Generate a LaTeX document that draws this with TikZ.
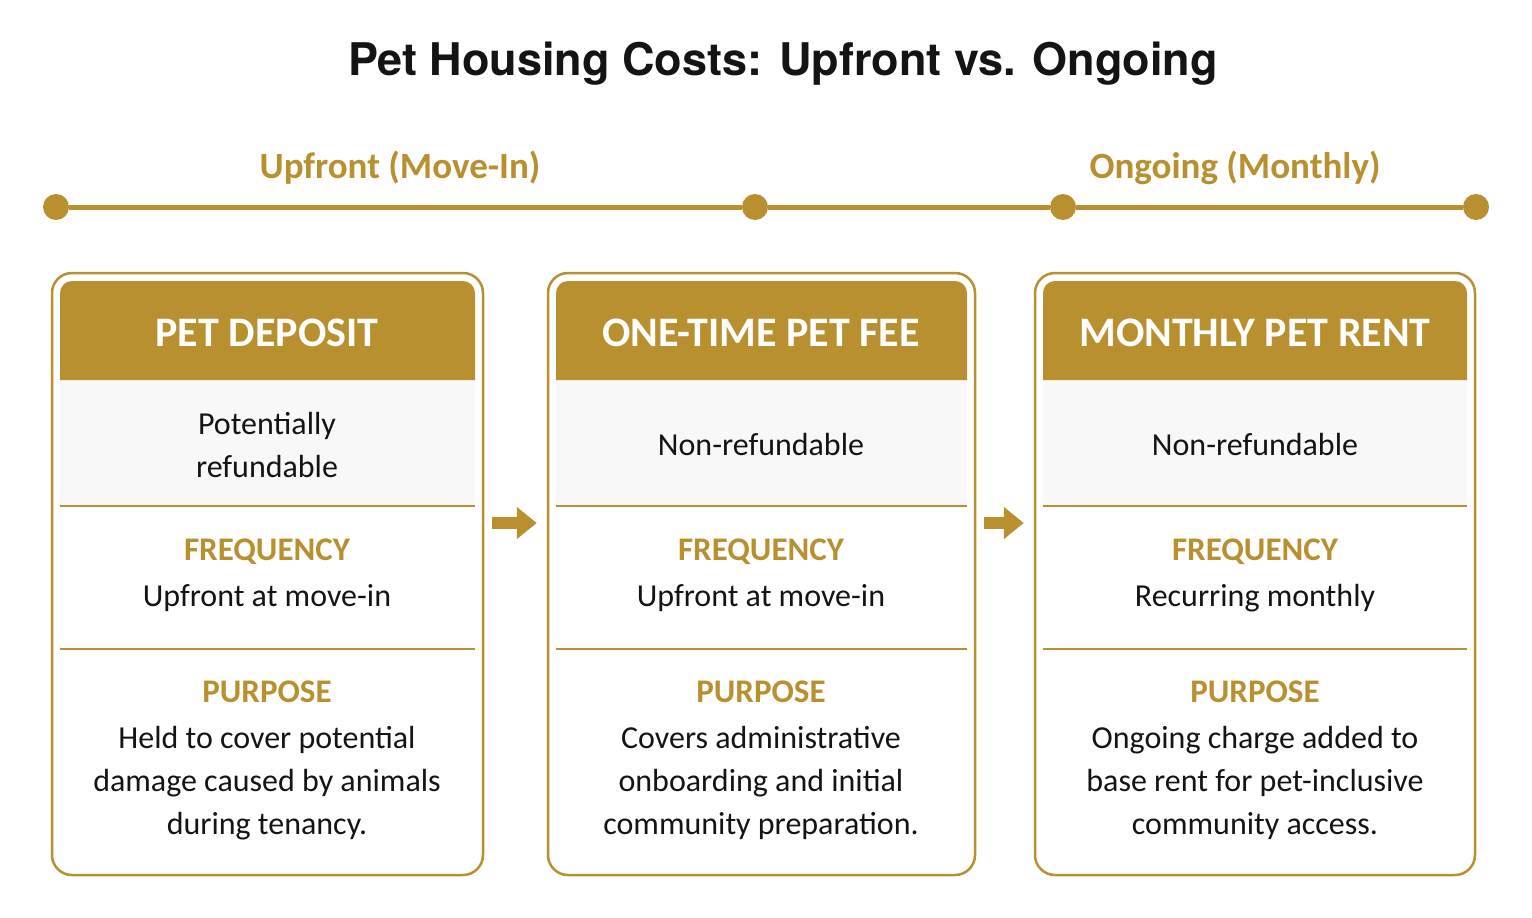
\documentclass[tikz,border=0pt]{standalone}
\usepackage{fontspec}
\setmainfont{Carlito}
\newfontfamily\titlefont{TeX Gyre Heros}
\usetikzlibrary{arrows.meta}
\definecolor{gold}{HTML}{B8902F}
\definecolor{rowgray}{HTML}{F8F8F8}
\definecolor{ink}{HTML}{141414}
\tikzset{
  card/.style={draw=gold, line width=2.5pt, rounded corners=20pt, minimum height=602pt, inner sep=0pt},
  headtext/.style={text=white, font=\bfseries\fontsize{42}{46}\selectfont},
  tag/.style={text=gold, font=\bfseries\fontsize{33}{40}\selectfont},
  body/.style={text=ink, align=center, font=\fontsize{32}{43}\selectfont},
  sep/.style={draw=gold, line width=1.2pt},
  flow/.style={draw=gold, line width=12pt, -{Triangle[length=20pt,width=31pt]}, shorten <=8pt, shorten >=10pt},
  dot/.style={circle, fill=gold, minimum size=26pt, inner sep=0pt},
  phase/.style={text=gold, font=\bfseries\fontsize{37}{42}\selectfont}
}
\begin{document}
\begin{tikzpicture}[x=1pt, y=-1pt, line join=round]
	\useasboundingbox (0,0) rectangle (1532,918);
	\node[font=\titlefont\bfseries\fontsize{45}{50}\selectfont, text=ink] (title) at (783,64) {Pet Housing Costs: Upfront vs. Ongoing};
	% timeline
	\foreach \n/\x in {t0/56, t1/755, t2/1063, t3/1476} \node[dot] (\n) at (\x,207) {};
	\draw[gold, line width=5pt] (t0) -- (t1) -- (t2) -- (t3);
	\node[phase] (up) at (400,168) {Upfront (Move-In)};
	\node[phase] (on) at (1235,168) {Ongoing (Monthly)};
	% cards
	\node[card, minimum width=431pt] (dep) at (267.5,574) {};
	\node[card, minimum width=427pt] (fee) at (761.5,574) {};
	\node[card, minimum width=440pt] (rent) at (1255,574) {};
	\foreach \c/\l/\r in {dep/60/475, fee/556/967, rent/1043/1467} {
		\fill[rowgray] (\l,380) rectangle (\r,506);
		\fill[gold] (\l,380) [rounded corners=12pt] -- (\l,281) -- (\r,281) [sharp corners] -- (\r,380) -- cycle;
		\draw[sep] (\l,506) -- (\r,506) (\l,649) -- (\r,649);
	}
	% card texts
	\foreach \c/\x/\head/\note/\freq/\why in {
		dep/267/PET DEPOSIT/{Potentially\\refundable}/Upfront at move-in/{Held to cover potential\\damage caused by animals\\during tenancy.},
		fee/761/ONE-TIME PET FEE/Non-refundable/Upfront at move-in/{Covers administrative\\onboarding and initial\\community preparation.},
		rent/1255/MONTHLY PET RENT/Non-refundable/Recurring monthly/{Ongoing charge added to\\base rent for pet-inclusive\\community access.}} {
		\node[headtext] (\c-head) at (\x,333) {\head};
		\node[body] (\c-note) at (\x,445) {\note};
		\node[tag] (\c-ftag) at (\x,552) {FREQUENCY};
		\node[body] (\c-freq) at (\x,598) {\freq};
		\node[tag] (\c-ptag) at (\x,692) {PURPOSE};
		\node[body] (\c-why) at (\x,783) {\why};
	}
	% flow arrows
	\draw[flow] (dep.east |- 0,523) -- (fee.west |- 0,523);
	\draw[flow] (fee.east |- 0,523) -- (rent.west |- 0,523);
\end{tikzpicture}
\end{document}
